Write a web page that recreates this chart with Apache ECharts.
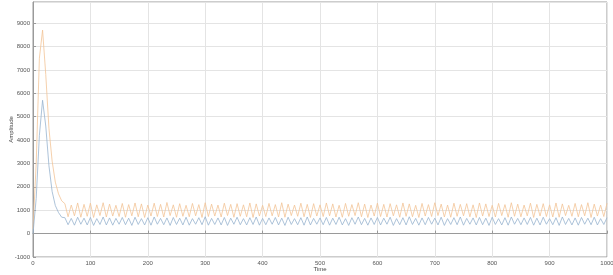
<!DOCTYPE html>
<html>
<head>
<meta charset="utf-8">
<script src="https://cdn.jsdelivr.net/npm/echarts@6/dist/echarts.min.js"></script>
<style>
  html, body { margin: 0; padding: 0; background: #fff; }
  #chart { width: 613px; height: 275px; }
</style>
</head>
<body>
<div id="chart"></div>
<script>
// total time span covered by the samples
const span = 1000

// start-up transient, then steady oscillation
const blueStart = [0, 1500, 4200, 5700, 4600, 2900, 1800, 1200, 900, 700]
const blueOsc = [
  680,380,650,360,700,400,660,370,690,350,640,390,710,370,670,360,650,400,690,380,
  660,350,700,390,640,370,680,360,710,400,650,380,670,350,690,390,660,370,700,360,
  640,400,680,380,720,360,650,390,670,370,690,350,660,400,700,380,640,370,680,390,
  710,360,650,380,670,400,690,370,660,350,700,390,640,380,680,360,710,370,650,400,
  670,380,690,360,660,390,700,370,640,350,680,400,710,380,650,360,670,390,690,370,
  660,400,700,350,640,380,680,370,720,390,650,360,670,380,690,400,660,370,700,350,
  640,390,680,380,710,360,650,400,670,370,690,380,660,350,700,390,640,370,680,360,
  710,400,650,380,670,390,690,360,660,370,700,400,640,380,680,350,710,390,650,370,
  670,360,690,400,660,380,700,370,640,390,680
]

const orangeStart = [200, 3000, 7500, 8700, 6800, 4500, 3100, 2200, 1700, 1400]
const orangeOsc = [
  1280,720,1220,760,1310,700,1250,740,1300,690,1230,770,1320,710,1260,750,1210,730,1290,700,
  1240,760,1310,720,1270,690,1220,750,1300,730,1250,710,1330,770,1230,700,1280,740,1210,720,
  1290,760,1240,690,1320,730,1260,750,1220,710,1300,770,1250,700,1280,740,1230,720,1310,690,
  1270,750,1210,730,1290,760,1240,710,1320,700,1260,770,1220,740,1300,720,1250,690,1280,750,
  1230,730,1310,760,1270,710,1210,700,1290,740,1240,770,1320,720,1260,690,1220,750,1300,730,
  1250,710,1280,760,1230,700,1310,740,1270,720,1210,690,1290,750,1240,730,1320,770,1260,710,
  1220,700,1300,740,1250,760,1280,720,1230,690,1310,750,1270,730,1210,710,1290,770,1240,700,
  1320,740,1260,720,1220,760,1300,690,1250,750,1280,730,1230,710,1310,700,1270,770,1210,740,
  1290,720,1240,760,1320,690,1260,750,1220,730,1300
]

const blueVals = blueStart.concat(blueOsc)
const orangeVals = orangeStart.concat(orangeOsc)

// evenly spaced sample times over the span
const toPairs = vals => vals.map((v, i) => [i * span / (vals.length - 1), v])

const chart = echarts.init(document.getElementById('chart'))
const tickFont = { fontFamily: 'Liberation Sans', fontSize: 6, color: '#555' }

const option = {
  animation: false,
  backgroundColor: '#fff',
  grid: {
    left: 33, right: 6, top: 2, bottom: 18,
    outerBoundsMode: 'none',
    containLabel: false,
    show: true, borderColor: '#9a9a9a', borderWidth: 1
  },
  xAxis: {
    type: 'value',
    min: 0, max: 1000, interval: 100,
    name: 'Time',
    nameLocation: 'middle',
    nameGap: 9,
    nameMoveOverlap: false,
    nameTextStyle: { fontFamily: 'Liberation Sans', fontSize: 6, color: '#444' },
    axisLine: { lineStyle: { color: '#9a9a9a' } },
    axisTick: { inside: true, length: 3, lineStyle: { color: '#9a9a9a' } },
    axisLabel: Object.assign({ margin: 3, formatter: v => String(v) }, tickFont),
    splitLine: { show: true, lineStyle: { color: '#e4e4e4', width: 1 } }
  },
  yAxis: {
    type: 'value',
    min: -1000, max: 9900, interval: 1000,
    name: 'Amplitude',
    nameLocation: 'middle',
    nameGap: 19,
    nameMoveOverlap: false,
    nameTextStyle: { fontFamily: 'Liberation Sans', fontSize: 6, color: '#444' },
    axisLine: { show: true, lineStyle: { color: '#9a9a9a' } },
    axisTick: { show: true, inside: true, length: 3, lineStyle: { color: '#9a9a9a' } },
    axisLabel: Object.assign({ margin: 3, showMaxLabel: false, formatter: v => String(v) }, tickFont),
    splitLine: { show: true, lineStyle: { color: '#e4e4e4', width: 1 } }
  },
  series: [
    {
      type: 'line',
      data: toPairs(orangeVals),
      symbol: 'none',
      lineStyle: { color: '#f2c497', width: 0.8 }
    },
    {
      type: 'line',
      data: toPairs(blueVals),
      symbol: 'none',
      lineStyle: { color: '#98b4cf', width: 0.8 }
    }
  ]
}

chart.setOption(option)
</script>
</body>
</html>
